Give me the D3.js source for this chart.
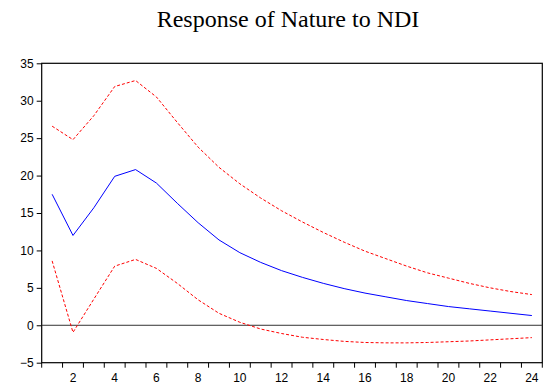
<!DOCTYPE html>
<html>
<head>
<meta charset="utf-8">
<script src="https://cdn.jsdelivr.net/npm/d3@7"></script>
<style>
  body { margin: 0; background: #fff; }
  svg { display: block; }
</style>
</head>
<body>
<script>
var periods = d3.range(1, 25);
var response = [17.5, 12.0, 15.7, 19.9, 20.8, 19.0, 16.3, 13.7, 11.4, 9.7, 8.4, 7.3, 6.4, 5.6, 4.9, 4.3, 3.8, 3.3, 2.9, 2.5, 2.2, 1.9, 1.6, 1.3];
var upper = [26.6, 24.8, 28.0, 31.9, 32.7, 30.5, 27.1, 23.8, 21.1, 18.9, 17.0, 15.3, 13.8, 12.4, 11.1, 9.9, 8.9, 7.9, 7.0, 6.3, 5.6, 5.0, 4.5, 4.1];
var lower = [8.6, -0.95, 3.5, 7.9, 8.8, 7.6, 5.6, 3.4, 1.6, 0.4, -0.5, -1.1, -1.6, -1.9, -2.15, -2.3, -2.35, -2.35, -2.3, -2.2, -2.1, -1.95, -1.8, -1.65];
var yTicks = [-5, 0, 5, 10, 15, 20, 25, 30, 35];

var width = 549, height = 390;
var mLeft = 41.7, mRight = 542.3, mTop = 63.3, mBottom = 362.7;

var svg = d3.select("body").append("svg")
    .attr("width", width)
    .attr("height", height);

var x = d3.scaleBand().domain(periods).range([mLeft, mRight]);
var y = d3.scaleLinear().domain([-5, 35]).range([mBottom, mTop]);

svg.append("text")
    .attr("x", 288)
    .attr("y", 27)
    .attr("text-anchor", "middle")
    .attr("font-family", "'Liberation Serif', 'Times New Roman', serif")
    .attr("font-size", "24px")
    .text("Response of Nature to NDI");

// frame
svg.append("rect")
    .attr("x", mLeft).attr("y", mTop)
    .attr("width", mRight - mLeft).attr("height", mBottom - mTop)
    .attr("fill", "none").attr("stroke", "#000").attr("stroke-width", 1.2);

// zero line
svg.append("line")
    .attr("x1", mLeft).attr("x2", mRight)
    .attr("y1", y(0)).attr("y2", y(0))
    .attr("stroke", "#333").attr("stroke-width", 1);

// y axis
var yAxis = svg.append("g").attr("transform", "translate(" + mLeft + ",0)")
    .call(d3.axisLeft(y).tickValues(yTicks).tickSize(5).tickPadding(3));
yAxis.select(".domain").remove();

// x axis: ticks on band boundaries, labels on even periods
var bounds = d3.range(0, 25).map(function(k) { return mLeft + k * x.bandwidth(); });
svg.append("g").selectAll("line")
    .data(bounds).enter().append("line")
    .attr("x1", function(d) { return d; }).attr("x2", function(d) { return d; })
    .attr("y1", mBottom).attr("y2", mBottom + 5)
    .attr("stroke", "#000");
svg.append("g").selectAll("text")
    .data(periods.filter(function(d) { return d % 2 == 0; }))
    .enter().append("text")
    .attr("x", function(d) { return x(d) + x.bandwidth() / 2; })
    .attr("y", 382)
    .attr("text-anchor", "middle")
    .attr("font-family", "'Liberation Sans', Arial, sans-serif")
    .attr("font-size", "12px")
    .text(function(d) { return d; });

svg.selectAll(".tick text")
    .attr("font-family", "'Liberation Sans', Arial, sans-serif")
    .attr("font-size", "12px")
    .attr("fill", "#000");
svg.selectAll(".tick line").attr("stroke", "#000");

var line = function(vals) {
    return d3.line()
        .x(function(d, i) { return x(periods[i]) + x.bandwidth() / 2; })
        .y(function(d) { return y(d); })(vals);
};

svg.append("path").attr("d", line(upper))
    .attr("fill", "none").attr("stroke", "#ff0000").attr("stroke-width", 1)
    .attr("stroke-dasharray", "3,2");
svg.append("path").attr("d", line(lower))
    .attr("fill", "none").attr("stroke", "#ff0000").attr("stroke-width", 1)
    .attr("stroke-dasharray", "3,2");
svg.append("path").attr("d", line(response))
    .attr("fill", "none").attr("stroke", "#0000ff").attr("stroke-width", 1);
</script>
</body>
</html>
